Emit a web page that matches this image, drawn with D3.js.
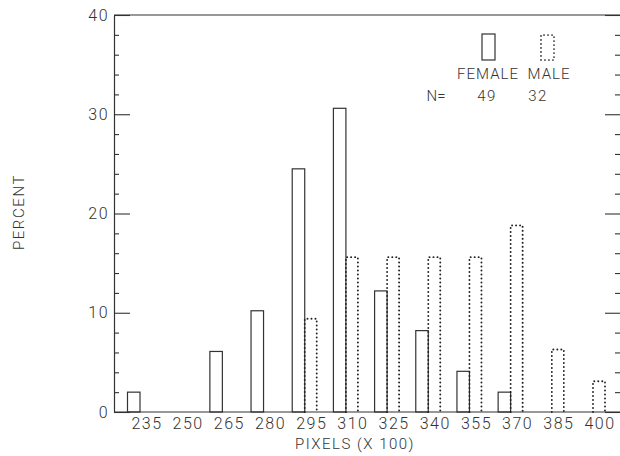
<!DOCTYPE html>
<html><head><meta charset="utf-8">
<script src="https://cdn.jsdelivr.net/npm/d3@7"></script>
<style>
html,body{margin:0;padding:0;background:#fff;}
text{font-family:Roboto,"Liberation Sans",Arial,sans-serif;font-weight:300;fill:#333;}
</style></head>
<body>
<svg id="chart" width="620" height="456"></svg>
<script>
const categories = [235,250,265,280,295,310,325,340,355,370,385,400];
const femaleValues = [2.0,0,6.1,10.2,24.5,30.6,12.2,8.2,4.1,2.0,0,0];
const maleValues = [0,0,0,0,9.4,15.6,15.6,15.6,15.6,18.8,6.3,3.1];
const yTicks = [0,10,20,30,40];
const minorTicks = [2,4,6,8,12,14,16,18,22,24,26,28,32,34,36,38];
const legendLabels = ["FEMALE","MALE"];
const legendN = [49,32];

const svg = d3.select("#chart");
const L = 114, R = 621, T = 15, B = 412;
const x = d3.scalePoint().domain(categories).range([140,593]);
const y = d3.scaleLinear().domain([0,40]).range([B,T]);
const ink = "#333";
const fw = 12.5, mw = 12;

// frame lines
svg.append("line").attr("x1",L).attr("x2",R).attr("y1",T).attr("y2",T).attr("stroke",ink).attr("stroke-width",1.1);
svg.append("line").attr("x1",L).attr("x2",R).attr("y1",B).attr("y2",B).attr("stroke",ink).attr("stroke-width",1.1);

// left axis
const gl = svg.append("g").attr("transform",`translate(${L},0)`)
  .call(d3.axisLeft(y).tickValues(yTicks).tickSizeInner(-16).tickSizeOuter(0).tickPadding(5));
gl.selectAll("text").style("font-size","16px").style("letter-spacing","1.5px").attr("fill",ink);
svg.append("g").attr("transform",`translate(${L},0)`)
  .call(d3.axisLeft(y).tickValues(minorTicks).tickSizeInner(-5).tickSizeOuter(0).tickFormat(""));
// right axis
svg.append("g").attr("transform",`translate(${R},0)`)
  .call(d3.axisRight(y).tickValues(yTicks).tickSizeInner(-16).tickSizeOuter(0).tickFormat(""));
svg.append("g").attr("transform",`translate(${R},0)`)
  .call(d3.axisRight(y).tickValues(minorTicks).tickSizeInner(-6).tickSizeOuter(0).tickFormat(""));
svg.selectAll(".domain").attr("stroke",ink).attr("stroke-width",1.1);
svg.selectAll(".tick line").attr("stroke",ink).attr("stroke-width",1.1);

// x labels
svg.append("g").selectAll("text").data(categories).join("text")
  .attr("x",d=>x(d)+7).attr("y",429).attr("text-anchor","middle")
  .style("font-size","16px").style("letter-spacing","1.5px").text(d=>d);

// female bars
svg.append("g").selectAll("rect").data(categories.map((c,i)=>({c,v:femaleValues[i]})).filter(d=>d.v>0))
  .join("rect").attr("x",d=>x(d.c)-fw).attr("width",fw)
  .attr("y",d=>y(d.v)).attr("height",d=>B-y(d.v))
  .attr("fill","none").attr("stroke",ink).attr("stroke-width",1.2);
// male bars (dotted)
svg.append("g").selectAll("path").data(categories.map((c,i)=>({c,v:maleValues[i]})).filter(d=>d.v>0))
  .join("path").attr("d",d=>`M${x(d.c)},${B}V${y(d.v)}H${x(d.c)+mw}V${B}`)
  .attr("fill","none").attr("stroke","#222").attr("stroke-width",1.9)
  .attr("stroke-linecap","round").attr("stroke-dasharray","0.1 3.9");

// legend
svg.append("rect").attr("x",482).attr("y",34).attr("width",13).attr("height",26)
  .attr("fill","none").attr("stroke",ink).attr("stroke-width",1.2);
svg.append("path").attr("d","M541,60V35H554V60H541")
  .attr("fill","none").attr("stroke","#222").attr("stroke-width",1.7)
  .attr("stroke-linecap","round").attr("stroke-dasharray","0.1 3.9");
const lx = [488,549];
svg.append("g").selectAll("text").data(legendLabels).join("text")
  .attr("x",(d,i)=>lx[i]).attr("y",79).attr("text-anchor","middle")
  .style("font-size","15px").style("letter-spacing","1px").text(d=>d);
const nx = [487,538];
svg.append("g").selectAll("text").data(legendN).join("text")
  .attr("x",(d,i)=>nx[i]).attr("y",101).attr("text-anchor","middle")
  .style("font-size","15px").style("letter-spacing","1.5px").text(d=>d);
svg.append("text").attr("x",436).attr("y",101).attr("text-anchor","middle")
  .style("font-size","15px").text("N=");

// axis titles
svg.append("text").attr("x",355).attr("y",449).attr("text-anchor","middle")
  .style("font-size","15px").style("letter-spacing","1.5px").text("PIXELS (X 100)");
svg.append("text").attr("transform","translate(24,212) rotate(-90)").attr("text-anchor","middle")
  .style("font-size","15px").style("letter-spacing","1.6px").text("PERCENT");
</script>
</body></html>
